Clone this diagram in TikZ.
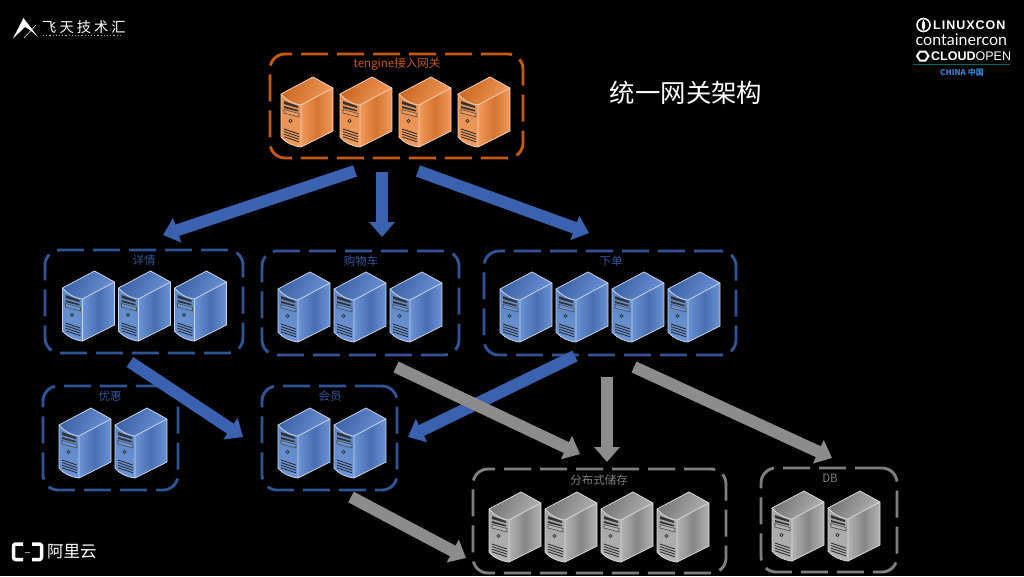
\documentclass[tikz,border=0pt]{standalone}
\usepackage{fontspec}
\setmainfont{Liberation Sans}
\newfontfamily\cjk{Noto Sans CJK SC}
\newfontfamily\cjkwide[LetterSpace=22]{Noto Sans CJK SC}
\newfontfamily\lat{Lato}
\newfontfamily\latwide[LetterSpace=8]{Liberation Sans}
\usetikzlibrary{arrows.meta,calc}
\definecolor{cOrange}{HTML}{C55A11}
\definecolor{cBlue}{HTML}{2F5597}
\definecolor{cArrow}{HTML}{3A62AE}
\definecolor{cGray}{HTML}{7F7F7F}
\definecolor{cGrayArrow}{HTML}{8C8C8C}
\definecolor{oL}{HTML}{F09A5C}\definecolor{oD}{HTML}{C9651F}\definecolor{oE}{HTML}{F4D2B8}\definecolor{oF}{HTML}{E58E50}
\definecolor{bL}{HTML}{6A92D4}\definecolor{bD}{HTML}{3A60A6}\definecolor{bE}{HTML}{C8D4E8}\definecolor{bF}{HTML}{5F87C8}
\definecolor{gL}{HTML}{B2B2B2}\definecolor{gD}{HTML}{747474}\definecolor{gE}{HTML}{DADADA}\definecolor{gF}{HTML}{A4A4A4}
\tikzset{
  x=1pt,y=-1pt,
  framebox/.style={draw=#1,line width=2.9pt,rounded corners=15pt,dash pattern=on 27pt off 9pt,
     anchor=north west,inner sep=0pt,outer sep=0pt},
  tag/.style={text=#1,font=\cjk\fontsize{11.5}{11.5}\selectfont,inner sep=0pt},
  flow/.style={line width=12pt,draw=#1,-{Triangle[length=15pt,width=25pt,fill=#1]},shorten >=0pt},
  pics/server/.style n args={4}{code={
    % top face
    \shade[left color=#2,right color=#1,shading angle=60]
       (0,17) -- (32,0) -- (52,11) -- (20,28) .. controls (12,27) and (5,23) .. (0,17) -- cycle;
    % side face
    \shade[left color=#1,right color=#1,middle color=#2!70!#1]
       (20,28) -- (52,11) -- (52,54) -- (20,70) -- cycle;
    % front face
    \shade[top color=#4,bottom color=#1]
       (0,17) .. controls (5,23) and (12,27) .. (20,28) -- (20,70)
       .. controls (12,69) and (5,66) .. (0,60) -- cycle;
    % outlines
    \draw[#3,line width=.8pt,line join=round]
       (0,17) -- (32,0) -- (52,11) -- (52,54) -- (20,70) .. controls (12,69) and (5,66) .. (0,60) -- cycle;
    \draw[#3,line width=.8pt] (0,17) .. controls (5,23) and (12,27) .. (20,28) -- (52,11) (20,28) -- (20,70);
    % bays
    \fill[black!80] (3,24) -- (17,29) -- (17,31) -- (3,27) -- cycle;
    \fill[black!80] (3,29) -- (17,33) -- (17,34.5) -- (3,31) -- cycle;
    \draw[black!70,fill=#1,line width=.6pt] (3,32.5) -- (18,36.5) -- (18,40) -- (3,36) -- cycle;
    \draw[black!80,line width=.7pt] (9.5,44) circle (1.6);
    \foreach \v in {0,2.6,5.2,7.8}
      \draw[black!85,line width=.8pt] (3,52+\v) -- (18,57+\v);
  }}
}
\begin{document}
\begin{tikzpicture}
\fill[black] (0,0) rectangle (1024,576);
\useasboundingbox (0,0) rectangle (1024,576);

% frames
\node[framebox=cOrange,minimum width=253pt,minimum height=104pt] (gw) at (270,54) {};
\node[framebox=cBlue,minimum width=198pt,minimum height=103pt] (detail) at (45,250) {};
\node[framebox=cBlue,minimum width=197pt,minimum height=104pt] (cart) at (262,251) {};
\node[framebox=cBlue,minimum width=252pt,minimum height=104pt] (order) at (484,251) {};
\node[framebox=cBlue,minimum width=135pt,minimum height=104pt] (promo) at (43,386) {};
\node[framebox=cBlue,minimum width=135pt,minimum height=104pt] (member) at (262,386) {};
\node[framebox=cGray,minimum width=253pt,minimum height=104pt] (store) at (473,469) {};
\node[framebox=cGray,minimum width=136pt,minimum height=104pt] (db) at (761,468) {};

% labels
\node[tag=cOrange] (lgw) at (397,64) {tengine接入网关};
\node[tag=cBlue] (ldetail) at (144,260) {详情};
\node[tag=cBlue] (lcart) at (361,261) {购物车};
\node[tag=cBlue] (lorder) at (611,261) {下单};
\node[tag=cBlue] (lpromo) at (110,396) {优惠};
\node[tag=cBlue] (lmember) at (330,396) {会员};
\node[tag=cGray] (lstore) at (599,480) {分布式储存};
\node[tag=cGray] (ldb) at (830,478) {DB};

% servers
\foreach \x in {281,340,399,458} \pic at (\x,77) {server={oL}{oD}{oE}{oF}};
\foreach \x in {62.5,118.5,174.5} \pic at (\x,271) {server={bL}{bD}{bE}{bF}};
\foreach \x in {278,334,390} \pic at (\x,272) {server={bL}{bD}{bE}{bF}};
\foreach \x in {500,556,612,668} \pic at (\x,272) {server={bL}{bD}{bE}{bF}};
\foreach \x in {59,115} \pic at (\x,408) {server={bL}{bD}{bE}{bF}};
\foreach \x in {278,334} \pic at (\x,408) {server={bL}{bD}{bE}{bF}};
\foreach \x in {489,545,601,657} \pic at (\x,492) {server={gL}{gD}{gE}{gF}};
\foreach \x in {772,828} \pic at (\x,491) {server={gL}{gD}{gE}{gF}};

% connector ends
\coordinate (a1s) at (355,171); \coordinate (a1e) at (163,235);
\coordinate (a2s) at (382,172); \coordinate (a2e) at (382,237);
\coordinate (a3s) at (418,171); \coordinate (a3e) at (589,233);
\coordinate (a4s) at (130,362); \coordinate (a4e) at (243,437);
\coordinate (a5s) at (575,356); \coordinate (a5e) at (408,437);
\coordinate (a6s) at (396,367); \coordinate (a6e) at (580,454);
\coordinate (a7s) at (607,377); \coordinate (a7e) at (607,462);
\coordinate (a8s) at (634,367); \coordinate (a8e) at (832,458);
\coordinate (a9s) at (351,497); \coordinate (a9e) at (466,558);

\draw[flow=cArrow] (a1s) -- (a1e);
\draw[flow=cArrow] (a2s) -- (a2e);
\draw[flow=cArrow] (a3s) -- (a3e);
\draw[flow=cArrow] (a4s) -- (a4e);
\draw[flow=cArrow] (a5s) -- (a5e);
\draw[flow=cGrayArrow] (a6s) -- (a6e);
\draw[flow=cGrayArrow] (a7s) -- (a7e);
\draw[flow=cGrayArrow] (a8s) -- (a8e);
\draw[flow=cGrayArrow] (a9s) -- (a9e);

% title
\node[text=white,font=\cjk\fontsize{25.4}{26}\selectfont,inner sep=0pt] (title) at (686,93) {统一网关架构};

% top-left logo
\fill[white] (23.5,18) -- (38,37) -- (30,30) -- (25,27) -- (13,38.5) -- cycle;
\draw[white,line width=.5pt] (24,38) -- (36,25);
\node[text=white,font=\cjkwide\fontsize{14.2}{15}\selectfont,anchor=west,inner sep=0pt] (ft) at (42,27) {飞天技术汇};
\draw[white!70!black,line width=1pt,dash pattern=on 1.2pt off 2pt] (43,35) -- (122,35);

% top-right logo
\draw[white,line width=1.6pt] (923.5,25) circle (6.5);
\fill[white] (923.5,19.5) .. controls (921,24) and (921.5,28) .. (923.5,30.5) .. controls (925.5,28) and (926,24) .. (923.5,19.5);
\node[text=white,font=\latwide\bfseries\fontsize{12.5}{13}\selectfont,anchor=west,inner sep=0pt] (lc) at (933,25) {LINUXCON};
\node[text=white,font=\lat\fontsize{16}{16}\selectfont,anchor=west,inner sep=0pt] (cc) at (915.5,40) {containercon};
\draw[white,line width=2pt] (917,56) -- (920,51.5) -- (925.5,51.5) -- (928.5,56) -- (925.5,60.5) -- (920,60.5) -- cycle;
\node[text=white,font=\fontsize{12.5}{13}\selectfont,anchor=west,inner sep=0pt] (co) at (931,56) {\textbf{CLOUD}OPEN};
\draw[teal!80!black,line width=1pt] (913,64.5) -- (1010,64.5);
\node[text=cyan!55!blue!85!white,font=\cjk\bfseries\fontsize{8}{8}\selectfont,inner sep=0pt] (cn) at (962,72) {CHINA 中国};

% bottom-left logo
\draw[white,line width=3.5pt,line join=round] (23,544) -- (15,544) -- (13.5,545.5) -- (13.5,558) -- (15,559.5) -- (23,559.5);
\draw[white,line width=3.5pt,line join=round] (32,544) -- (40,544) -- (41.5,545.5) -- (41.5,558) -- (40,559.5) -- (32,559.5);
\draw[white!60!black,line width=1pt] (25,552) -- (30,552);
\node[text=white,font=\cjk\fontsize{16.5}{17}\selectfont,anchor=west,inner sep=0pt] (ali) at (47,552) {阿里云};
\end{tikzpicture}
\end{document}
